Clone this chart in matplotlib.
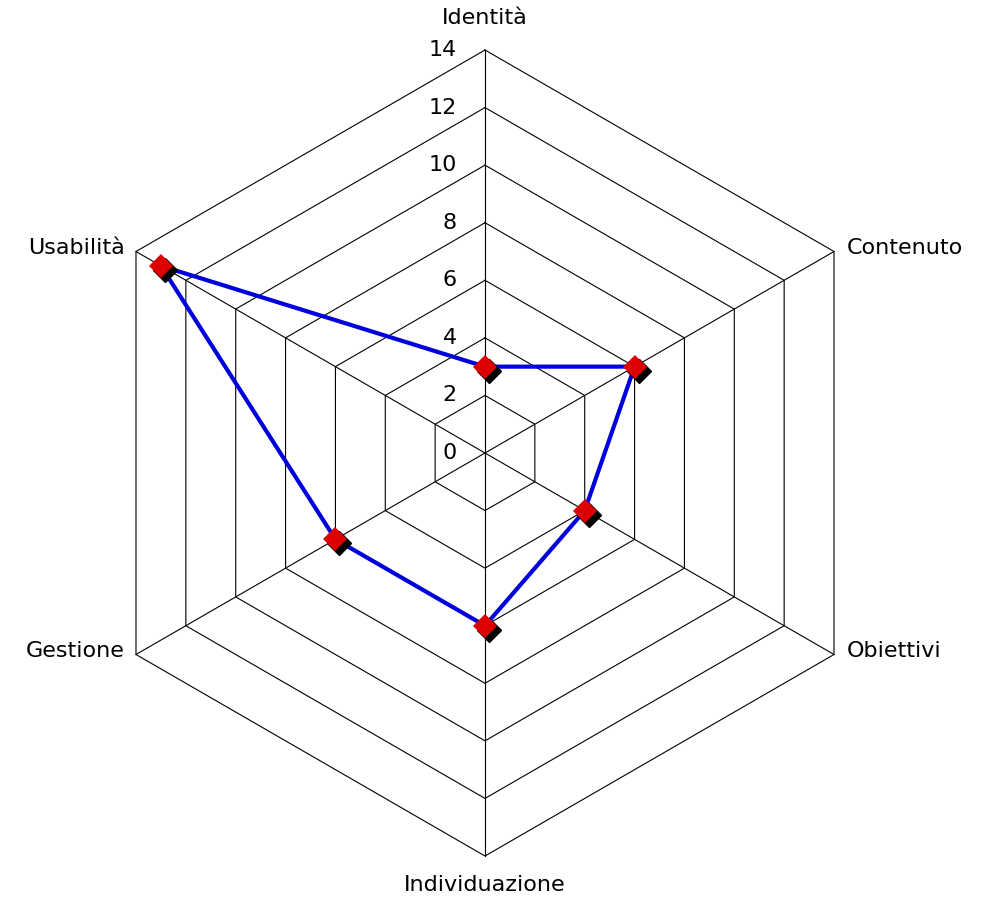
import numpy as np
import matplotlib
matplotlib.use('Agg')
import matplotlib.pyplot as plt
import matplotlib.transforms as mtransforms

# categories clockwise from the top
categories = ['Identità', 'Contenuto', 'Obiettivi', 'Individuazione', 'Gestione', 'Usabilità']
values = [3, 6, 4, 6, 6, 13]
ring_ticks = [0, 2, 4, 6, 8, 10, 12, 14]
rmax = 14

#angles: start at top, go clockwise
n = len(categories)
angles = np.pi / 2 - np.arange(n) * 2 * np.pi / n

fig = plt.figure(figsize=(9.93, 8.99), dpi=100)
ax = fig.add_axes([0, 0, 1, 1])
ppu = 403 / rmax  # pixels per unit
ax.set_xlim(-485 / ppu, (993 - 485) / ppu)
ax.set_ylim(-(899 - 453) / ppu, 453 / ppu)
ax.axis('off')

#hexagonal grid rings
for r in ring_ticks[1:]:
    xs = r * np.cos(np.append(angles, angles[0]))
    ys = r * np.sin(np.append(angles, angles[0]))
    ax.plot(xs, ys, color='black', lw=0.8, zorder=1)

#spokes
for a in angles:
    ax.plot([0, rmax * np.cos(a)], [0, rmax * np.sin(a)], color='black', lw=0.8, zorder=1)

#ring tick labels
fs = 16
for r in ring_ticks:
    ax.text(-0.98, r, str(r), ha='right', va='center', fontsize=fs)

#category labels
for cat, a in zip(categories, angles):
    x = rmax * np.cos(a)
    y = rmax * np.sin(a)
    c = np.cos(a)
    if abs(c) < 0.01:
        dy = 1.1 if np.sin(a) > 0 else -1.02
        ax.text(x, y + dy, cat, ha='center', va='center', fontsize=fs)
    elif c > 0:
        ax.text(x + 0.45, y + 0.12, cat, ha='left', va='center', fontsize=fs)
    else:
        ax.text(x - 0.4, y + 0.12, cat, ha='right', va='center', fontsize=fs)

#data polygon
vx = np.array(values) * np.cos(angles)
vy = np.array(values) * np.sin(angles)
ax.plot(np.append(vx, vx[0]), np.append(vy, vy[0]), color='#0000DD', lw=3, zorder=2)

#marker shadow then markers
shadow = mtransforms.offset_copy(ax.transData, fig=fig, x=4, y=-4, units='dots')
ax.plot(vx, vy, 'D', color='black', markersize=12, transform=shadow, zorder=3)
ax.plot(vx, vy, 'D', color='#DD0000', markersize=12, markeredgewidth=0, zorder=4)

plt.savefig('out.png')
